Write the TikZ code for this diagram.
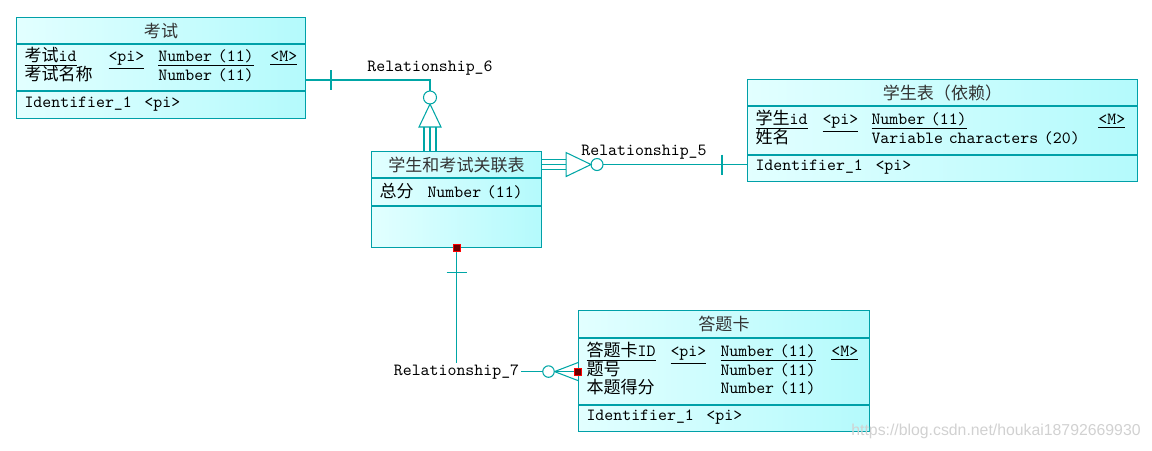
\documentclass[tikz,border=0pt]{standalone}
\usepackage{fontspec}
\newfontfamily\zhfont{Noto Sans CJK SC}
\newfontfamily\wmfont{Liberation Sans}
\usetikzlibrary{positioning,calc}

\definecolor{entline}{RGB}{0,160,168}
\definecolor{entleft}{RGB}{226,255,255}
\definecolor{entright}{RGB}{180,250,252}
\definecolor{linkline}{RGB}{0,166,166}
\definecolor{jointfill}{RGB}{110,0,0}

\newcommand\zh[1]{{\zhfont #1}}
\newcommand\fld[2]{\makebox[#1][l]{#2}}
\newcommand\key[1]{\underline{#1}}
\newcommand\entfont{\ttfamily\fontsize{9.7}{10.5}\selectfont\lineskiplimit=-5pt\relax}

\tikzset{
  part/.style={rectangle, draw=entline, line width=0.6pt,
               left color=entleft, right color=entright,
               inner xsep=0.16cm, inner ysep=1pt, font=\entfont},
  ttl/.style={part, align=center, text=black!80},
  attrs/.style={part, align=left, execute at end node={\par\vspace{3.4pt}}},
  ident/.style={part, align=left, execute at end node={\par\vspace{1.2pt}}},
  link/.style={draw=linkline, line width=0.6pt},
  rel/.style={font=\ttfamily\fontsize{9.7}{11}\selectfont, inner sep=1pt},
  joint/.style={rectangle, fill=jointfill, draw=red, line width=0.4pt,
                minimum size=4pt, inner sep=0pt},
  wm/.style={font=\wmfont\fontsize{9}{10}\selectfont, text=black!18},
}

\begin{document}
\begin{tikzpicture}[x=0.02cm, y=-0.02cm]

  \useasboundingbox (0,0) rectangle (1152,450);

  % entity: kaoshi
  \node[ttl, minimum width=5.78cm, minimum height=0.52cm, anchor=north west] (kaoshi) at (16,17) {\zh{考试}};
  \node[attrs, text width=5.46cm, minimum height=0.92cm, below=0pt of kaoshi] (kaoshiAttr)
    {\fld{1.68cm}{\key{\zh{考试}id}}\fld{1.0cm}{\key{<pi>}}\fld{2.24cm}{\key{Number (11)}}\key{<M>}\\
     \fld{2.68cm}{\zh{考试名称}}Number (11)};
  \node[ident, text width=5.46cm, minimum height=0.54cm, below=0pt of kaoshiAttr] (kaoshiId)
    {\fld{2.4cm}{Identifier\_1}<pi>};

  % entity: guanlian
  \node[ttl, minimum width=3.4cm, minimum height=0.52cm, anchor=north west] (guanlian) at (371,151) {\zh{学生和考试关联表}};
  \node[ident, text width=3.08cm, minimum height=0.54cm, below=0pt of guanlian] (guanlianAttr)
    {\fld{0.96cm}{\zh{总分}}Number (11)};
  \node[part, minimum width=3.4cm, minimum height=0.82cm, below=0pt of guanlianAttr] (guanlianExt) {};

  % entity: xuesheng
  \node[ttl, minimum width=7.8cm, minimum height=0.52cm, anchor=north west] (xuesheng) at (747,79) {\zh{学生表（依赖）}};
  \node[attrs, text width=7.48cm, minimum height=0.96cm, below=0pt of xuesheng] (xueshengAttr)
    {\fld{1.34cm}{\key{\zh{学生}id}}\fld{0.98cm}{\key{<pi>}}\fld{4.54cm}{\key{Number (11)}}\key{<M>}\\
     \fld{2.32cm}{\zh{姓名}}Variable characters (20)};
  \node[ident, text width=7.48cm, minimum height=0.52cm, below=0pt of xueshengAttr] (xueshengId)
    {\fld{2.4cm}{Identifier\_1}<pi>};

  % entity: datika
  \node[ttl, minimum width=5.82cm, minimum height=0.54cm, anchor=north west] (datika) at (578,310) {\zh{答题卡}};
  \node[attrs, text width=5.50cm, minimum height=1.32cm, below=0pt of datika] (datikaAttr)
    {\fld{1.68cm}{\key{\zh{答题卡}ID}}\fld{1.0cm}{\key{<pi>}}\fld{2.22cm}{\key{Number (11)}}\key{<M>}\\
     \fld{2.68cm}{\zh{题号}}Number (11)\\
     \fld{2.68cm}{\zh{本题得分}}Number (11)};
  \node[ident, text width=5.50cm, minimum height=0.52cm, below=0pt of datikaAttr] (datikaId)
    {\fld{2.4cm}{Identifier\_1}<pi>};

  % Relationship_6
  \coordinate (r6) at (430,80);
  \draw[link] (kaoshiAttr.east |- r6) -- (r6) -- ++(0,11);
  \draw[link] ($(kaoshiAttr.east |- r6)+(25,-10)$) -- ++(0,20);
  \draw[link] ($(r6)+(0,17.5)$) circle[radius=0.13cm];
  \draw[link] ($(r6)+(0,24)$) -- ++(-11,23) -- ++(22,0) -- cycle;
  \foreach \dx in {-6,0,6}
    \draw[link] ($(r6)+(\dx,47)$) -- ($(r6 |- guanlian.north)+(\dx,0)$);
  \node[rel] (r6lab) at (430,68) {Relationship\_6};

  % Relationship_5
  \coordinate (r5) at (guanlian.east);
  \foreach \dy in {-5,0,5}
    \draw[link] ($(r5)+(0,\dy)$) -- ++(24,0);
  \draw[link] ($(r5)+(24,-12)$) -- ++(0,24) -- ++(25,-12) -- cycle;
  \draw[link] ($(r5)+(55,0)$) circle[radius=0.12cm];
  \draw[link] ($(r5)+(61,0)$) -- (xueshengId.west |- r5);
  \draw[link] ($(xueshengId.west |- r5)+(-25,-10)$) -- ++(0,20);
  \node[rel] (r5lab) at (644,152) {Relationship\_5};

  % Relationship_7
  \coordinate (r7) at (guanlianExt.south |- datikaAttr.west);
  \draw[link] (guanlianExt.south) -- (r7) -- ($(r7)+(86,0)$);
  \draw[link] ($(guanlianExt.south)+(-10,24)$) -- ++(20,0);
  \draw[link] ($(r7)+(92,0)$) circle[radius=0.115cm];
  \foreach \dy in {-9,0,9}
    \draw[link] ($(r7)+(98,0)$) -- ($(datikaAttr.west)+(0,\dy)$);
  \node[joint] (j1) at (guanlianExt.south) {};
  \node[joint] (j2) at (datikaAttr.west) {};
  \node[rel, fill=white] (r7lab) at (r7) {Relationship\_7};

  \node[wm] (wmark) at (996,431) {https://blog.csdn.net/houkai18792669930};

\end{tikzpicture}
\end{document}
